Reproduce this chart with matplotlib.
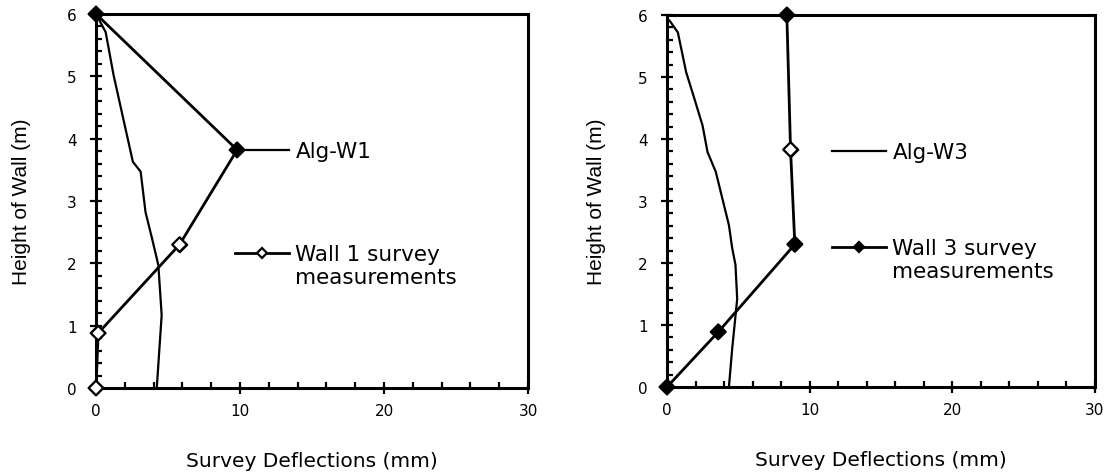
import matplotlib
matplotlib.use('Agg')
from matplotlib import pyplot as plt
from matplotlib.ticker import MultipleLocator

# Wall 1 (left panel)
alg_w1_x = [0.0, 0.67, 1.22, 2.0, 2.56, 3.1, 3.44, 3.89, 4.33, 4.56, 4.22]
alg_w1_y = [6.0, 5.71, 5.02, 4.21, 3.63, 3.47, 2.82, 2.40, 1.97, 1.17, 0.0]
wall1_x = [0.0, 9.8, 5.8, 0.15, 0.0]
wall1_y = [6.0, 3.82, 2.3, 0.88, 0.0]
wall1_fill = ['black', 'black', 'white', 'white', 'white']

# Wall 3 (right panel)
alg_w3_x = [0.18, 0.76, 1.34, 1.92, 2.49, 2.84, 3.42, 3.88, 4.34, 4.57, 4.8, 4.92, 4.57, 4.34]
alg_w3_y = [5.91, 5.72, 5.08, 4.65, 4.22, 3.79, 3.47, 3.04, 2.61, 2.24, 1.97, 1.42, 0.62, 0.0]
wall3_x = [8.4, 8.66, 8.96, 3.6, 0.0]
wall3_y = [6.0, 3.83, 2.3, 0.89, 0.0]
wall3_fill = ['black', 'white', 'black', 'black', 'black']

panels = [
    dict(rect=[96 / 1108, 88 / 477, 432 / 1108, 374 / 477],
         alg=(alg_w1_x, alg_w1_y), alg_label='Alg-W1',
         wall=(wall1_x, wall1_y), fill=wall1_fill, wall_mfc='white',
         wall_label='Wall 1 survey\nmeasurements',
         leg_anchor=(0.322, 0.661), leg_space=3.8, ylab_x=-0.172),
    dict(rect=[667 / 1108, 89 / 477, 428 / 1108, 372 / 477],
         alg=(alg_w3_x, alg_w3_y), alg_label='Alg-W3',
         wall=(wall3_x, wall3_y), fill=wall3_fill, wall_mfc='black',
         wall_label='Wall 3 survey\nmeasurements',
         leg_anchor=(0.386, 0.658), leg_space=3.45, ylab_x=-0.165),
]

fig = plt.figure(figsize=(11.08, 4.77), dpi=100)

for p in panels:
    ax = fig.add_axes(p['rect'])
    l_alg, = ax.plot(p['alg'][0], p['alg'][1], color='black', lw=1.6,
                     label=p['alg_label'])
    l_wall, = ax.plot(p['wall'][0], p['wall'][1], color='black', lw=2.0,
                      marker='D', ms=7, mfc=p['wall_mfc'], mec='black', mew=1.6,
                      label=p['wall_label'], clip_on=False, zorder=3)
    ax.scatter(p['wall'][0], p['wall'][1], marker='D', s=55, c=p['fill'],
               edgecolors='black', linewidths=1.6, clip_on=False, zorder=4)

    ax.set_xlim(0, 30)
    ax.set_ylim(0, 6)
    for s in ax.spines.values():
        s.set_linewidth(2.2)

    ax.xaxis.set_major_locator(MultipleLocator(10))
    ax.xaxis.set_minor_locator(MultipleLocator(2))
    ax.yaxis.set_major_locator(MultipleLocator(1))
    ax.yaxis.set_minor_locator(MultipleLocator(0.2))
    ax.tick_params(which='major', direction='inout', length=8, width=1.6,
                   labelsize=11)
    ax.tick_params(which='minor', direction='in', length=4, width=1.6)
    ax.tick_params(axis='x', which='major', pad=7)
    ax.tick_params(axis='y', which='major', pad=10)

    ax.set_xlabel('Survey Deflections (mm)', fontsize=14.5)
    ax.xaxis.set_label_coords(0.5, -0.195)
    ax.xaxis.label.set_va('center')
    ax.set_ylabel('Height of Wall (m)', fontsize=15, family='Liberation Sans')
    ax.yaxis.set_label_coords(p['ylab_x'], 0.5)
    ax.yaxis.label.set_va('center')

    leg = ax.legend(handles=[l_alg, l_wall], loc='upper left',
                    bbox_to_anchor=p['leg_anchor'], frameon=False, fontsize=15.5,
                    borderpad=0, borderaxespad=0, handlelength=2.5,
                    handleheight=1.15, handletextpad=0.3,
                    labelspacing=p['leg_space'], numpoints=1, markerscale=0.8)
    # put the handle level with the first line of a two-line label
    for col in leg._legend_handle_box.get_children():
        for row in col.get_children():
            row.align = 'top'

fig.savefig('out.png', dpi=100)
